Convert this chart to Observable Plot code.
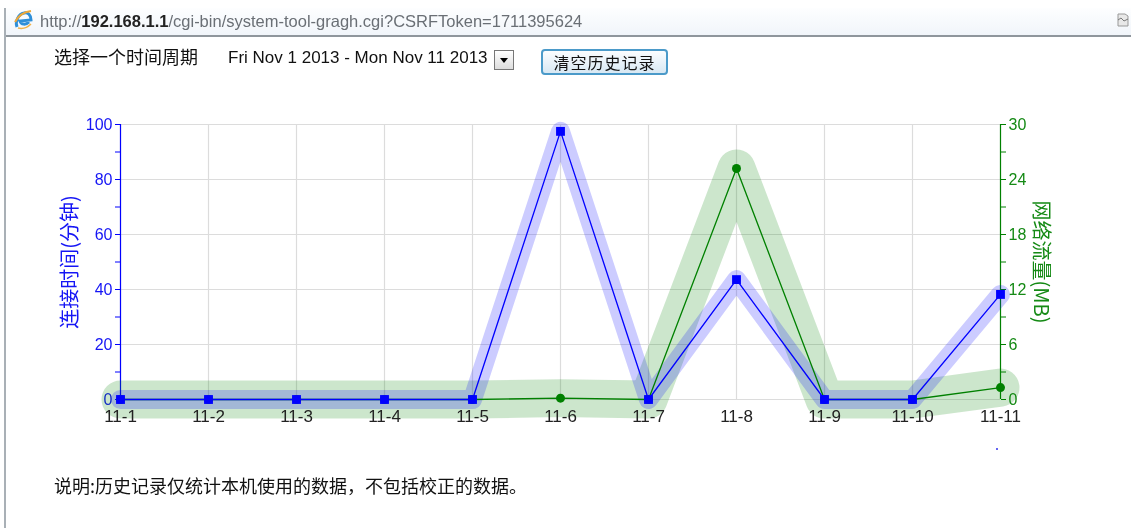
<!DOCTYPE html>
<html><head><meta charset="utf-8">
<script src="https://cdn.jsdelivr.net/npm/d3@7"></script>
<script src="https://cdn.jsdelivr.net/npm/@observablehq/plot@0.6"></script>
<style>
html,body{margin:0;padding:0;background:#fff;width:1131px;height:528px;overflow:hidden}
body{position:relative;font-family:"Liberation Sans",Arial,sans-serif;filter:blur(.35px)}
#chart{position:absolute;left:0;top:0}
.abs{position:absolute;white-space:nowrap}
#bar{left:6px;top:8px;width:1125px;height:27px;background:linear-gradient(#fdfeff,#f1f5fa);border-bottom:2px solid #8f969c}
#leftline{left:4px;top:8px;width:2px;height:520px;background:#a9b0b6}
#url{left:40px;top:12px;font-size:16.5px;color:#6a6f75}
#url b{color:#222;font-weight:bold}
#cjk1{left:54px;top:43px;font:18px "Noto Sans CJK SC";color:#111}
#range{left:228px;top:48px;font-size:17px;color:#111}
#sel{left:494px;top:50px;width:18px;height:18px;border:1px solid #777;background:linear-gradient(#fff,#ddd);box-sizing:content-box}
#sel i{position:absolute;left:5px;top:7px;width:0;height:0;border:4px solid transparent;border-top:5px solid #000}
#btn{left:541px;top:49px;width:127px;height:26px;border:2px solid #4b9ac9;border-radius:4px;background:linear-gradient(#fbfdff,#d8e8f3);font:16px "Noto Sans CJK SC";color:#111;text-align:center;line-height:22px;letter-spacing:1px;box-sizing:border-box}
#note{left:54px;top:472px;font:18px "Noto Sans CJK SC";color:#111}
#dot{left:996px;top:448px;width:2px;height:2px;background:#3030ee;border-radius:50%}
</style></head><body>
<div id="chart"></div>
<div class="abs" id="leftline"></div>
<div class="abs" id="bar"></div>
<svg class="abs" style="left:13px;top:10px" width="21" height="21" viewBox="0 0 21 21">
<path d="M4 17C2 12 5 4 11 3C15 2 18 5 18 10L7 11C8 15 13 15 16 12" fill="none" stroke="#2f8fd8" stroke-width="3"/>
<path d="M2 12C5 6 11 2 18 1" fill="none" stroke="#eda83a" stroke-width="2"/>
<path d="M5 18C9 19 14 18 18 14" fill="none" stroke="#f0b34a" stroke-width="1.5"/>
</svg>
<div class="abs" id="url">http://<b>192.168.1.1</b>/cgi-bin/system-tool-gragh.cgi?CSRFToken=1711395624</div>
<svg class="abs" style="left:1117px;top:13px" width="12" height="14" viewBox="0 0 12 14"><path d="M1 1H8L11 3V13H1Z" fill="#e8e8e8" stroke="#999"/><path d="M1 7L4 5L7 8L11 6" fill="none" stroke="#777"/></svg>
<div class="abs" id="cjk1">选择一个时间周期</div>
<div class="abs" id="range">Fri Nov 1 2013 - Mon Nov 11 2013</div>
<div class="abs" id="sel"><i></i></div>
<div class="abs" id="btn">清空历史记录</div>
<div class="abs" id="note">说明:历史记录仅统计本机使用的数据，不包括校正的数据。</div>
<div class="abs" id="dot"></div>
<script>
const days = ["11-1","11-2","11-3","11-4","11-5","11-6","11-7","11-8","11-9","11-10","11-11"];
const minutes = [0,0,0,0,0,97.5,0,43.6,0,0,38.2];
const traffic = [0,0,0,0,0,0.15,0,25.2,0,0,1.3];
const leftTicks = [0,20,40,60,80,100];
const minorTicks = [10,30,50,70,90];
const blueColor = "#0000ff", greenColor = "#008000";
const MB = v => v * 100 / 30;
const rows = days.map((day,i)=>({day, minutes:minutes[i], traffic:MB(traffic[i])}));
const cjk = '"Noto Sans CJK SC"';
const chart = Plot.plot({
  width:1131, height:528, marginLeft:120, marginRight:131, marginTop:124, marginBottom:129,
  style:{fontFamily:'"Liberation Sans",Arial,sans-serif',fontSize:"15px",background:"transparent",overflow:"visible"},
  x:{type:"point",domain:days,padding:0,label:null},
  y:{domain:[0,100],label:null},
  marks:[
    Plot.gridY(leftTicks,{stroke:"#dcdcdc",strokeOpacity:1,strokeWidth:1.2}),
    Plot.gridX(days,{stroke:"#dcdcdc",strokeOpacity:1,strokeWidth:1.2}),
    Plot.ruleX([days[0]],{stroke:blueColor,strokeWidth:1.2}),
    Plot.ruleX([days[10]],{stroke:greenColor,strokeWidth:1.2}),
    Plot.axisY(minorTicks,{anchor:"left",stroke:blueColor,tickSize:5,tickFormat:()=>"",label:null}),
    Plot.axisY(minorTicks,{anchor:"right",stroke:greenColor,tickSize:5,tickFormat:()=>"",label:null}),
    Plot.axisY(leftTicks,{anchor:"left",stroke:blueColor,fill:"#1515f5",tickSize:5,tickPadding:3,fontSize:16,label:null}),
    Plot.axisY(leftTicks,{anchor:"right",stroke:greenColor,fill:"#158a15",tickSize:5,tickPadding:3,fontSize:16,tickFormat:d=>String(Math.round(d*30/100)),label:null}),
    Plot.line(rows,{x:"day",y:"traffic",stroke:greenColor,strokeOpacity:0.2,strokeWidth:38,strokeLinejoin:"round",strokeLinecap:"round"}),
    Plot.line(rows,{x:"day",y:"minutes",stroke:blueColor,strokeOpacity:0.2,strokeWidth:19,strokeLinejoin:"round",strokeLinecap:"round"}),
    Plot.line(rows,{x:"day",y:"traffic",stroke:greenColor,strokeWidth:1.3}),
    Plot.line(rows,{x:"day",y:"minutes",stroke:blueColor,strokeWidth:1.3}),
    Plot.dot(rows,{x:"day",y:"traffic",r:4.5,fill:greenColor}),
    Plot.dot(rows,{x:"day",y:"minutes",symbol:"square",r:5,fill:blueColor}),
    Plot.axisX(days,{tickSize:0,tickPadding:10,fill:"#222",fontSize:17,label:null}),
    Plot.text(["连接时间(分钟)"],{frameAnchor:"left",textAnchor:"middle",dx:-50,rotate:-90,fill:"#1515f5",fontSize:20,fontFamily:cjk}),
    Plot.text(["网络流量(MB)"],{frameAnchor:"right",textAnchor:"middle",dx:40,rotate:90,fill:"#158a15",fontSize:20,fontFamily:cjk})
  ]
});
document.getElementById("chart").appendChild(chart);
</script>
</body></html>
